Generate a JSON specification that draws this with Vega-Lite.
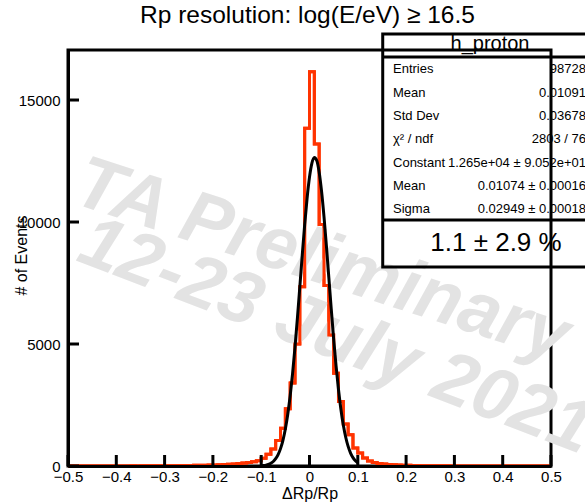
{
  "$schema": "https://vega.github.io/schema/vega-lite/v6.json",
  "width": 483,
  "height": 416,
  "autosize": {"type": "none"},
  "padding": {"left": 68, "top": 50, "right": 34, "bottom": 38},
  "background": "white",
  "config": {
    "font": "Liberation Sans",
    "view": {"stroke": "black", "strokeWidth": 3},
    "axis": {"grid": false, "labelFont": "Liberation Sans", "titleFont": "Liberation Sans", "labelColor": "black", "titleColor": "black", "tickColor": "black", "domainColor": "black", "titleFontWeight": "normal"}
  },
  "title": {"text": "Rp resolution: log(E/eV) ≥ 16.5", "font": "Liberation Sans", "fontSize": 24.5, "fontWeight": "normal", "color": "black", "anchor": "middle", "offset": 4, "dx": -2},
  "datasets": {
    "hist": [
      {"x": -0.50, "count": 2}, {"x": -0.49, "count": 1}, {"x": -0.48, "count": 2}, {"x": -0.47, "count": 1}, {"x": -0.46, "count": 3},
      {"x": -0.45, "count": 2}, {"x": -0.44, "count": 3}, {"x": -0.43, "count": 2}, {"x": -0.42, "count": 4}, {"x": -0.41, "count": 3},
      {"x": -0.40, "count": 4}, {"x": -0.39, "count": 5}, {"x": -0.38, "count": 4}, {"x": -0.37, "count": 6}, {"x": -0.36, "count": 5},
      {"x": -0.35, "count": 7}, {"x": -0.34, "count": 8}, {"x": -0.33, "count": 8}, {"x": -0.32, "count": 10}, {"x": -0.31, "count": 11},
      {"x": -0.30, "count": 12}, {"x": -0.29, "count": 14}, {"x": -0.28, "count": 15}, {"x": -0.27, "count": 18}, {"x": -0.26, "count": 20},
      {"x": -0.25, "count": 23}, {"x": -0.24, "count": 26}, {"x": -0.23, "count": 30}, {"x": -0.22, "count": 35}, {"x": -0.21, "count": 40},
      {"x": -0.20, "count": 46}, {"x": -0.19, "count": 53}, {"x": -0.18, "count": 62}, {"x": -0.17, "count": 72}, {"x": -0.16, "count": 85},
      {"x": -0.15, "count": 100}, {"x": -0.14, "count": 118}, {"x": -0.13, "count": 140}, {"x": -0.12, "count": 170}, {"x": -0.11, "count": 220},
      {"x": -0.10, "count": 320}, {"x": -0.09, "count": 480}, {"x": -0.08, "count": 700}, {"x": -0.07, "count": 1050}, {"x": -0.06, "count": 1550},
      {"x": -0.05, "count": 2350}, {"x": -0.04, "count": 3400}, {"x": -0.03, "count": 5000}, {"x": -0.02, "count": 7350}, {"x": -0.01, "count": 13840},
      {"x": 0.00, "count": 16160}, {"x": 0.01, "count": 13200}, {"x": 0.02, "count": 9900}, {"x": 0.03, "count": 7400}, {"x": 0.04, "count": 5370},
      {"x": 0.05, "count": 3800}, {"x": 0.06, "count": 2640}, {"x": 0.07, "count": 1720}, {"x": 0.08, "count": 1280}, {"x": 0.09, "count": 740},
      {"x": 0.10, "count": 530}, {"x": 0.11, "count": 330}, {"x": 0.12, "count": 200}, {"x": 0.13, "count": 140}, {"x": 0.14, "count": 105},
      {"x": 0.15, "count": 80}, {"x": 0.16, "count": 62}, {"x": 0.17, "count": 50}, {"x": 0.18, "count": 40}, {"x": 0.19, "count": 32},
      {"x": 0.20, "count": 26}, {"x": 0.21, "count": 21}, {"x": 0.22, "count": 17}, {"x": 0.23, "count": 14}, {"x": 0.24, "count": 12},
      {"x": 0.25, "count": 10}, {"x": 0.26, "count": 8}, {"x": 0.27, "count": 7}, {"x": 0.28, "count": 6}, {"x": 0.29, "count": 5},
      {"x": 0.30, "count": 5}, {"x": 0.31, "count": 4}, {"x": 0.32, "count": 4}, {"x": 0.33, "count": 3}, {"x": 0.34, "count": 3},
      {"x": 0.35, "count": 3}, {"x": 0.36, "count": 2}, {"x": 0.37, "count": 2}, {"x": 0.38, "count": 2}, {"x": 0.39, "count": 2},
      {"x": 0.40, "count": 1}, {"x": 0.41, "count": 2}, {"x": 0.42, "count": 1}, {"x": 0.43, "count": 1}, {"x": 0.44, "count": 1},
      {"x": 0.45, "count": 1}, {"x": 0.46, "count": 0}, {"x": 0.47, "count": 1}, {"x": 0.48, "count": 1}, {"x": 0.49, "count": 0},
      {"x": 0.50, "count": 0}
    ],
    "fit": [
      {"x": -0.100, "count": 11}, {"x": -0.095, "count": 20}, {"x": -0.090, "count": 37}, {"x": -0.085, "count": 65}, {"x": -0.080, "count": 111},
      {"x": -0.075, "count": 185}, {"x": -0.070, "count": 298}, {"x": -0.065, "count": 468}, {"x": -0.060, "count": 712}, {"x": -0.055, "count": 1054},
      {"x": -0.050, "count": 1517}, {"x": -0.045, "count": 2120}, {"x": -0.040, "count": 2879}, {"x": -0.035, "count": 3799}, {"x": -0.030, "count": 4871},
      {"x": -0.025, "count": 6069}, {"x": -0.020, "count": 7348}, {"x": -0.015, "count": 8643}, {"x": -0.010, "count": 9879}, {"x": -0.005, "count": 10971},
      {"x": 0.000, "count": 11838}, {"x": 0.005, "count": 12413}, {"x": 0.010, "count": 12646}, {"x": 0.015, "count": 12519}, {"x": 0.020, "count": 12042},
      {"x": 0.025, "count": 11254}, {"x": 0.030, "count": 10220}, {"x": 0.035, "count": 9018}, {"x": 0.040, "count": 7733}, {"x": 0.045, "count": 6442},
      {"x": 0.050, "count": 5215}, {"x": 0.055, "count": 4101}, {"x": 0.060, "count": 3135}, {"x": 0.065, "count": 2328}, {"x": 0.070, "count": 1680},
      {"x": 0.075, "count": 1178}, {"x": 0.080, "count": 802}, {"x": 0.085, "count": 531}, {"x": 0.090, "count": 342}, {"x": 0.095, "count": 213},
      {"x": 0.100, "count": 130}
    ],
    "xticks": [{"t": -0.5}, {"t": -0.4}, {"t": -0.3}, {"t": -0.2}, {"t": -0.1}, {"t": 0}, {"t": 0.1}, {"t": 0.2}, {"t": 0.3}, {"t": 0.4}, {"t": 0.5}],
    "yticks": [{"t": 0}, {"t": 5000}, {"t": 10000}, {"t": 15000}]
  },
  "layer": [
    {
      "data": {"name": "hist"},
      "mark": {"type": "line", "interpolate": "step-after", "color": "#ff3300", "strokeWidth": 3},
      "encoding": {
        "x": {"field": "x", "type": "quantitative", "scale": {"domain": [-0.5, 0.5], "nice": false},
          "axis": {"values": [-0.5, -0.4, -0.3, -0.2, -0.1, 0, 0.1, 0.2, 0.3, 0.4, 0.5],
            "labelExpr": "datum.value == 0 ? '0' : format(datum.value, '.1f')",
            "ticks": false, "domain": true, "domainWidth": 3, "zindex": 1,
            "labelFontSize": 15, "labelPadding": 3, "labelFlush": false, "labelOverlap": false,
            "title": "ΔRp/Rp", "titleFontSize": 16, "titleY": 27, "titleBaseline": "middle"}},
        "y": {"field": "count", "type": "quantitative", "scale": {"domain": [0, 17050], "nice": false, "zero": false},
          "axis": {"values": [0, 5000, 10000, 15000], "format": "d",
            "ticks": false, "domain": true, "domainWidth": 3, "zindex": 1,
            "labelFontSize": 15, "labelPadding": 8, "labelOverlap": false,
            "title": "# of Events", "titleFontSize": 16, "titleX": -47, "titleY": 205, "titleAngle": -90, "titleAlign": "center", "titleBaseline": "middle"}}
      }
    },
    {
      "data": {"values": [{}]},
      "mark": {"type": "text", "text": "TA Preliminary", "font": "Liberation Sans", "fontSize": 74, "fontWeight": "bold", "fontStyle": "italic", "color": "#e3e3e3", "angle": 18, "align": "center", "baseline": "middle"},
      "encoding": {
        "x": {"datum": 0.026, "type": "quantitative", "scale": {"domain": [-0.5, 0.5]}},
        "y": {"datum": 8400, "type": "quantitative", "scale": {"domain": [0, 17050]}}
      }
    },
    {
      "data": {"values": [{}]},
      "mark": {"type": "text", "text": "12-23 July 2021", "font": "Liberation Sans", "fontSize": 74, "fontWeight": "bold", "fontStyle": "italic", "color": "#e3e3e3", "angle": 21, "align": "center", "baseline": "middle"},
      "encoding": {
        "x": {"datum": 0.055, "type": "quantitative", "scale": {"domain": [-0.5, 0.5]}},
        "y": {"datum": 5300, "type": "quantitative", "scale": {"domain": [0, 17050]}}
      }
    },
    {
      "data": {"name": "hist"},
      "mark": {"type": "line", "interpolate": "step-after", "color": "#ff3300", "strokeWidth": 3},
      "encoding": {
        "x": {"field": "x", "type": "quantitative", "scale": {"domain": [-0.5, 0.5]}},
        "y": {"field": "count", "type": "quantitative", "scale": {"domain": [0, 17050]}}
      }
    },
    {
      "data": {"name": "fit"},
      "mark": {"type": "line", "interpolate": "monotone", "color": "black", "strokeWidth": 3},
      "encoding": {
        "x": {"field": "x", "type": "quantitative", "scale": {"domain": [-0.5, 0.5]}},
        "y": {"field": "count", "type": "quantitative", "scale": {"domain": [0, 17050]}}
      }
    },
    {
      "data": {"name": "xticks"},
      "mark": {"type": "rule", "color": "black", "strokeWidth": 3},
      "encoding": {
        "x": {"field": "t", "type": "quantitative", "scale": {"domain": [-0.5, 0.5]}},
        "y": {"datum": 0, "type": "quantitative", "scale": {"domain": [0, 17050]}},
        "y2": {"datum": 451}
      }
    },
    {
      "data": {"name": "yticks"},
      "mark": {"type": "rule", "color": "black", "strokeWidth": 3},
      "encoding": {
        "y": {"field": "t", "type": "quantitative", "scale": {"domain": [0, 17050]}},
        "x": {"datum": -0.5, "type": "quantitative", "scale": {"domain": [-0.5, 0.5]}},
        "x2": {"datum": -0.4772}
      }
    },
    {
      "data": {"values": [{}]},
      "mark": {"type": "rect", "filled": false, "stroke": "black", "strokeWidth": 3},
      "encoding": {
        "x": {"datum": 0.1516, "type": "quantitative", "scale": {"domain": [-0.5, 0.5]}},
        "x2": {"datum": 0.5952},
        "y": {"datum": 17706, "type": "quantitative", "scale": {"domain": [0, 17050]}},
        "y2": {"datum": 8156}
      }
    },
    {
      "data": {"values": [{}]},
      "mark": {"type": "rule", "color": "black", "strokeWidth": 3},
      "encoding": {
        "x": {"datum": 0.1516, "type": "quantitative", "scale": {"domain": [-0.5, 0.5]}},
        "x2": {"datum": 0.5952},
        "y": {"datum": 16763, "type": "quantitative", "scale": {"domain": [0, 17050]}}
      }
    },
    {
      "data": {"values": [{}]},
      "mark": {"type": "rule", "color": "black", "strokeWidth": 3},
      "encoding": {
        "x": {"datum": 0.1516, "type": "quantitative", "scale": {"domain": [-0.5, 0.5]}},
        "x2": {"datum": 0.5952},
        "y": {"datum": 10083, "type": "quantitative", "scale": {"domain": [0, 17050]}}
      }
    },
    {
      "data": {"values": [{}]},
      "mark": {"type": "text", "text": "h_proton", "font": "Liberation Sans", "fontSize": 20, "color": "black", "align": "center", "baseline": "middle"},
      "encoding": {
        "x": {"datum": 0.3737, "type": "quantitative", "scale": {"domain": [-0.5, 0.5]}},
        "y": {"datum": 17300, "type": "quantitative", "scale": {"domain": [0, 17050]}}
      }
    },
    {
      "data": {"values": [{}]},
      "mark": {"type": "text", "text": ["Entries", "Mean", "Std Dev", "χ² / ndf", "Constant", "Mean", "Sigma"], "font": "Liberation Sans", "fontSize": 13, "lineHeight": 23.33, "color": "black", "align": "left", "baseline": "middle"},
      "encoding": {
        "x": {"datum": 0.1729, "type": "quantitative", "scale": {"domain": [-0.5, 0.5]}},
        "y": {"datum": 16259, "type": "quantitative", "scale": {"domain": [0, 17050]}}
      }
    },
    {
      "data": {"values": [{}]},
      "mark": {"type": "text", "text": ["98728", "0.01091", "0.03678", "2803 / 76", "1.265e+04 ± 9.052e+01", "0.01074 ± 0.00016", "0.02949 ± 0.00018"], "font": "Liberation Sans", "fontSize": 13, "lineHeight": 23.33, "color": "black", "align": "right", "baseline": "middle"},
      "encoding": {
        "x": {"datum": 0.5725, "type": "quantitative", "scale": {"domain": [-0.5, 0.5]}},
        "y": {"datum": 16259, "type": "quantitative", "scale": {"domain": [0, 17050]}}
      }
    },
    {
      "data": {"values": [{}]},
      "mark": {"type": "text", "text": "1.1 ± 2.9 %", "font": "Liberation Sans", "fontSize": 26, "color": "black", "align": "center", "baseline": "middle"},
      "encoding": {
        "x": {"datum": 0.3861, "type": "quantitative", "scale": {"domain": [-0.5, 0.5]}},
        "y": {"datum": 9140, "type": "quantitative", "scale": {"domain": [0, 17050]}}
      }
    }
  ]
}
